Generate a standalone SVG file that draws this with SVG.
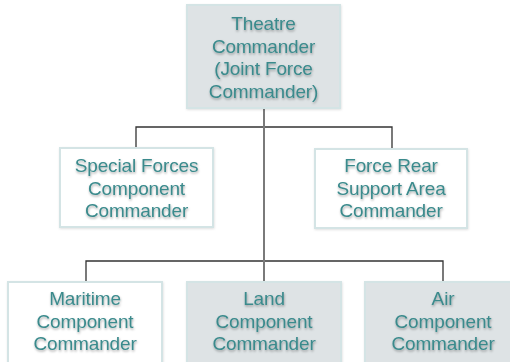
<svg xmlns="http://www.w3.org/2000/svg" width="510" height="362" viewBox="0 0 510 362">
<defs>
<style>
.box{stroke:#d4e4e5;stroke-width:2}
.filled{fill:#dee3e5}
.plain{fill:#ffffff}
text{font-family:"Liberation Sans",Arial,sans-serif;font-size:19px;letter-spacing:-0.15px;fill:#3a8a8c;text-anchor:middle}
.ln{stroke:#333333;stroke-width:1.3;fill:none}
.trunk{stroke:#7a7a7a;stroke-width:2;fill:none}
</style>
<filter id="sh" x="-10%" y="-10%" width="120%" height="130%">
<feDropShadow dx="0.5" dy="1.5" stdDeviation="1.2" flood-color="#000" flood-opacity="0.35"/>
</filter>
<filter id="bs" x="-5%" y="-5%" width="110%" height="115%">
<feDropShadow dx="0.5" dy="1" stdDeviation="0.8" flood-color="#000" flood-opacity="0.12"/>
</filter>
</defs>
<rect width="510" height="362" fill="#ffffff"/>
<g id="connectors">
<path class="ln" d="M136 148 V127 H392 V149"/>
<path class="ln" d="M86 282 V261 H443 V282"/>
<path class="trunk" d="M264 108 V282"/>
</g>
<g id="theatre">
<rect class="box filled" x="187" y="5" width="153" height="103" filter="url(#bs)"/>
<g filter="url(#sh)">
<text x="263.5" y="30">Theatre</text>
<text x="263.5" y="52.5">Commander</text>
<text x="263.5" y="75">(Joint Force</text>
<text x="263.5" y="97.5">Commander)</text>
</g>
</g>
<g id="special">
<rect class="box plain" x="60" y="148" width="153" height="79" filter="url(#bs)"/>
<g filter="url(#sh)">
<text x="136.5" y="172">Special Forces</text>
<text x="136.5" y="194.5">Component</text>
<text x="136.5" y="217">Commander</text>
</g>
</g>
<g id="rear">
<rect class="box plain" x="315" y="149" width="152" height="79" filter="url(#bs)"/>
<g filter="url(#sh)">
<text x="391" y="172">Force Rear</text>
<text x="391" y="194.5">Support Area</text>
<text x="391" y="217">Commander</text>
</g>
</g>
<g id="maritime">
<rect class="box plain" x="8" y="282" width="154" height="90" filter="url(#bs)"/>
<g filter="url(#sh)">
<text x="85" y="305">Maritime</text>
<text x="85" y="327.5">Component</text>
<text x="85" y="350">Commander</text>
</g>
</g>
<g id="land">
<rect class="box filled" x="187" y="282" width="154" height="90" filter="url(#bs)"/>
<g filter="url(#sh)">
<text x="264" y="305">Land</text>
<text x="264" y="327.5">Component</text>
<text x="264" y="350">Commander</text>
</g>
</g>
<g id="air">
<rect class="box filled" x="365" y="282" width="156" height="90" filter="url(#bs)"/>
<g filter="url(#sh)">
<text x="443" y="305">Air</text>
<text x="443" y="327.5">Component</text>
<text x="443" y="350">Commander</text>
</g>
</g>
</svg>
